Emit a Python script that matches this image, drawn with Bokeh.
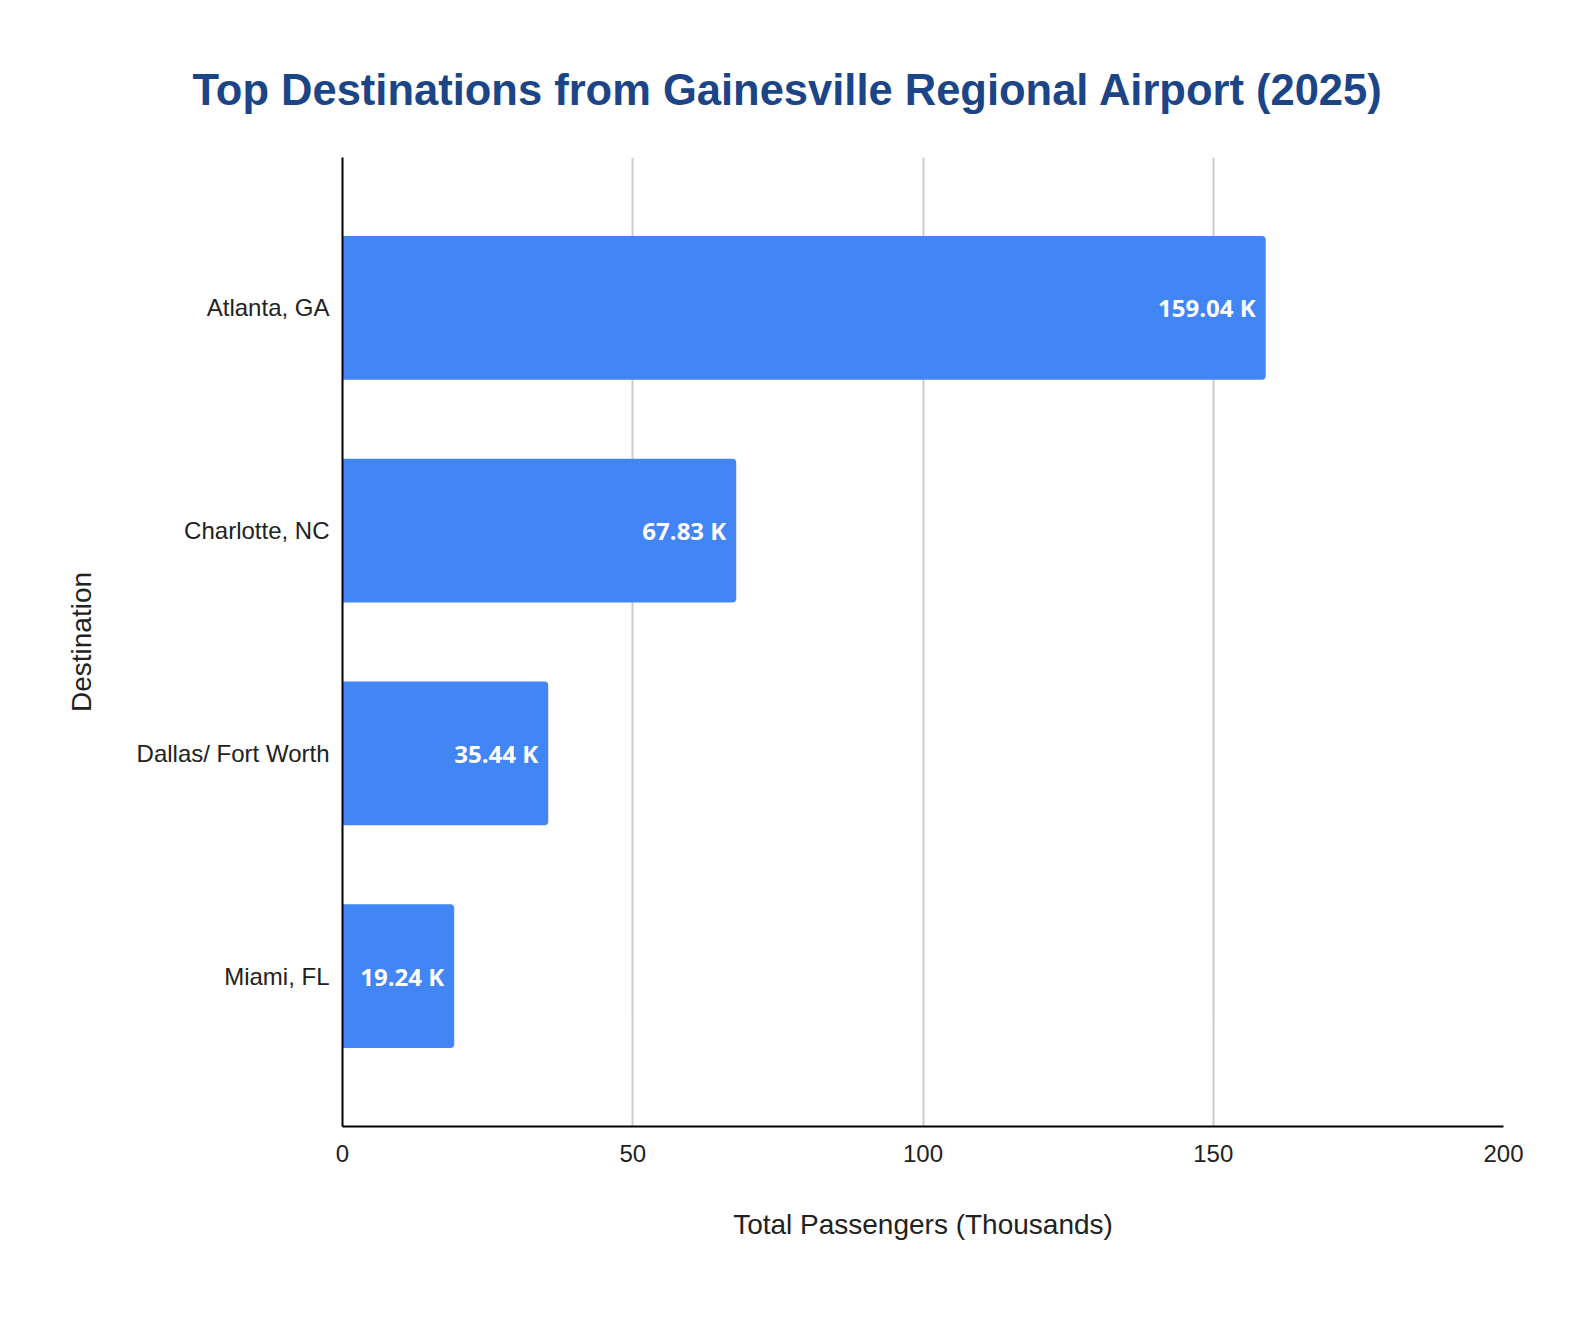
from bokeh.embed import file_html
from bokeh.models import ColumnDataSource, FactorRange, Range1d, Title
from bokeh.plotting import figure
from bokeh.resources import INLINE

# passengers per destination, thousands
destinations = ["Atlanta, GA", "Charlotte, NC", "Dallas/ Fort Worth", "Miami, FL"]
passengers = [159.04, 67.83, 35.44, 19.24]
labels = ["159.04 K", "67.83 K", "35.44 K", "19.24 K"]
x_ticks = [0, 50, 100, 150, 200]

BAR = "#4285F4"
TITLE_BLUE = "#1C4587"

src = ColumnDataSource(data=dict(dest=destinations, val=passengers, lab=labels))

p = figure(
    width=1568, height=1297,
    y_range=FactorRange(factors=destinations[::-1], range_padding=0.0875),
    x_range=Range1d(0, 200),
    output_backend="svg", toolbar_location=None,
    min_border_left=342, min_border_top=157, min_border_right=65, min_border_bottom=171,
)
p.outline_line_color = None

p.hbar(y="dest", right="val", left=0, height=0.645, source=src,
       fill_color=BAR, line_color=None, border_radius=(0, 4, 4, 0))

p.text(x="val", y="dest", text="lab", source=src, x_offset=-10,
       text_align="right", text_baseline="middle", text_color="white",
       text_font_style="bold", text_font_size="24px", text_font={"value": "Open Sans"})

p.xaxis.ticker = x_ticks
p.xaxis.axis_label = "Total Passengers (Thousands)"
p.yaxis.axis_label = "Destination"
for ax in (p.xaxis[0], p.yaxis[0]):
    ax.axis_line_color = "black"
    ax.axis_line_width = 2
    ax.major_tick_line_color = None
    ax.minor_tick_line_color = None
    ax.major_label_text_font = "Liberation Sans"
    ax.major_label_text_font_size = "24px"
    ax.major_label_text_color = "#222222"
    ax.axis_label_text_font = "Liberation Sans"
    ax.axis_label_text_font_size = "28px"
    ax.axis_label_text_font_style = "normal"
    ax.axis_label_text_color = "#222222"
p.xaxis.major_label_standoff = 12
p.xaxis.axis_label_standoff = 44
p.yaxis.major_label_standoff = 7
p.yaxis.axis_label_standoff = 37

p.xgrid.grid_line_color = "#cccccc"
p.xgrid.grid_line_width = 2
p.ygrid.grid_line_color = None

p.add_layout(Title(text="Top Destinations from Gainesville Regional Airport (2025)",
                   align="left", offset=-150, standoff=88,
                   text_font="Liberation Sans", text_font_size="43.5px",
                   text_font_style="bold", text_color=TITLE_BLUE), "above")

open("out.html", "w").write(file_html(p, INLINE))
